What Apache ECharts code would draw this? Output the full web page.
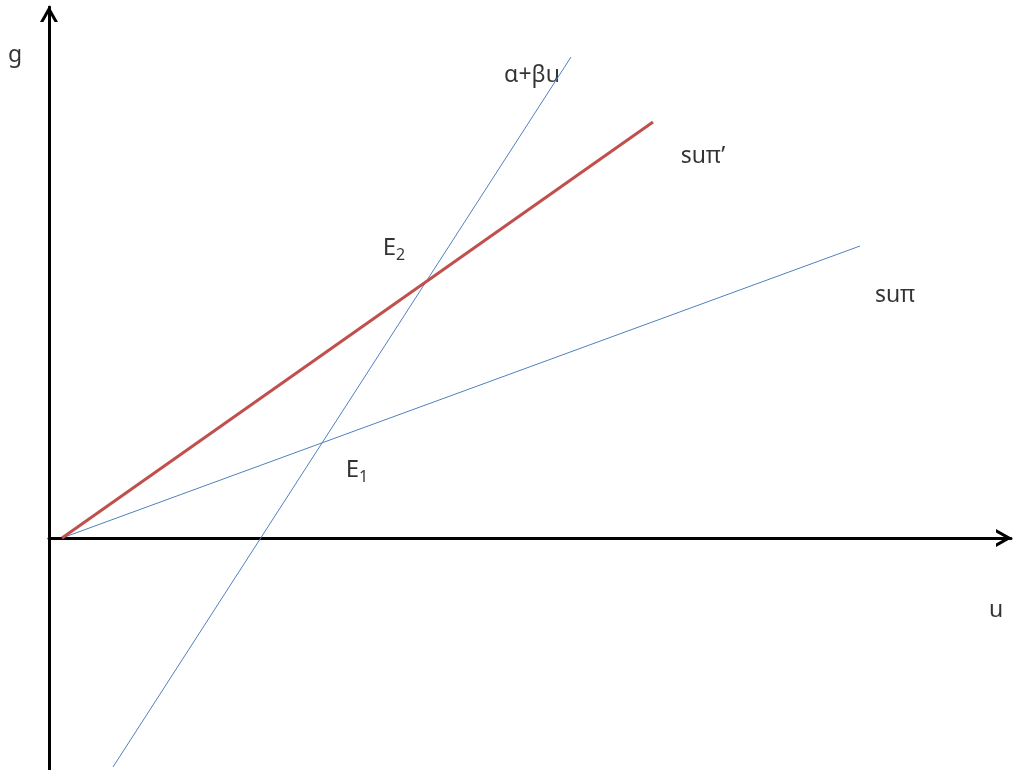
<!DOCTYPE html>
<html>
<head>
<meta charset="utf-8">
<script src="https://cdn.jsdelivr.net/npm/echarts@6/dist/echarts.min.js"></script>
<style>
  html, body { margin: 0; padding: 0; background: #fff; }
  #chart { width: 1013px; height: 770px; }
</style>
</head>
<body>
<div id="chart"></div>
<script>
// lines as [u, g] end points
var lineSuPiPrime = [[0.13, 0], [6.04, 4.16]];
var lineSuPi = [[0.13, 0], [8.11, 2.92]];
var lineAlphaBeta = [[0.64, -2.29], [5.22, 4.81]];
// annotation texts and where they sit, in u/g units
var labelTexts = ['g', 'u', 'α+βu', 'suπ’', 'suπ', '{e|E}{s|2}', '{e|E}{s|1}'];
var labelCoords = [[-0.34, 4.83], [9.47, -0.72], [4.83, 4.63], [6.54, 3.82], [8.46, 2.43], [3.45, 2.90], [3.08, 0.68]];

(function(){
    var myChart = echarts.init(document.getElementById('chart'));
    var blue = '#4f81bd';
    var red = '#c0504d';
    var font = '"Noto Sans", sans-serif';
    // open chevron, tip pointing up
    var chevron = 'path://M0,16 L9,0 L18,16 L14.6,16 L9,6.2 L3.4,16 Z';

    var axisCommon = {
        type: 'value',
        splitLine: { show: false },
        axisTick: { show: false },
        axisLabel: { show: false },
        axisLine: {
            show: true,
            symbol: ['none', chevron],
            symbolSize: [18, 16],
            symbolOffset: [0, -7],
            lineStyle: { color: '#000', width: 3 }
        }
    };

    var option = {
        animation: false,
        grid: { left: 49, right: 2, top: 7, bottom: 0 },
        xAxis: Object.assign({}, axisCommon, { min: 0, max: 9.62 }),
        yAxis: Object.assign({}, axisCommon, { min: -2.32, max: 5.31 }),
        series: [
            {
                type: 'line',
                data: lineSuPi,
                symbol: 'none',
                lineStyle: { color: blue, width: 1 }
            },
            {
                type: 'line',
                data: lineAlphaBeta,
                symbol: 'none',
                lineStyle: { color: blue, width: 1 }
            },
            {
                type: 'line',
                data: lineSuPiPrime,
                symbol: 'none',
                lineStyle: { color: red, width: 3 }
            },
            {
                type: 'scatter',
                clip: false,
                symbolSize: 0,
                silent: true,
                label: {
                    show: true,
                    position: 'inside',
                    formatter: function (p) { return labelTexts[p.dataIndex]; },
                    color: '#000',
                    fontSize: 23,
                    fontFamily: font,
                    rich: {
                        e: { fontSize: 24, fontFamily: font, color: '#000' },
                        s: { fontSize: 16, fontFamily: font, color: '#000', padding: [14, 0, 0, 0] }
                    }
                },
                data: labelCoords
            }
        ]
    };
    myChart.setOption(option);
    window.addEventListener('resize', function(){
        myChart.resize();
    });
})();
</script>
</body>
</html>
